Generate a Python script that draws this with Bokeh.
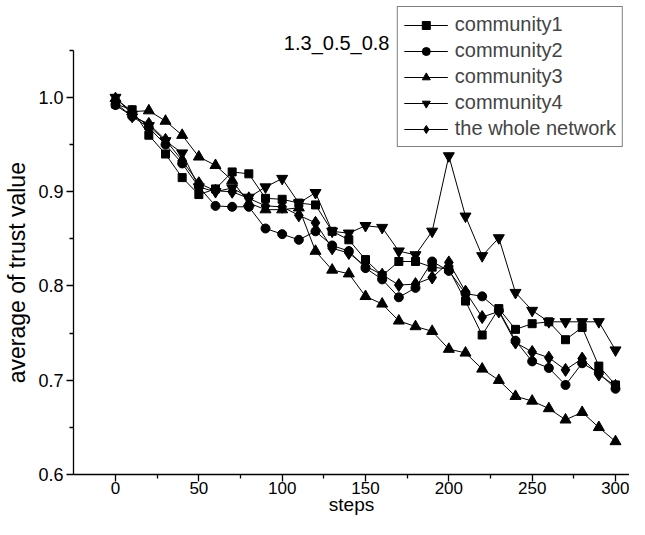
from bokeh.plotting import figure
from bokeh.models import Range1d, FixedTicker, Legend, LegendItem, Label, PrintfTickFormatter
from bokeh.embed import file_html
from bokeh.resources import INLINE

steps = list(range(0, 301, 10))

community1 = [0.993, 0.987, 0.960, 0.940, 0.915, 0.897, 0.903, 0.921, 0.919, 0.893,
              0.892, 0.888, 0.886, 0.858, 0.849, 0.828, 0.811, 0.826, 0.826, 0.820,
              0.818, 0.784, 0.748, 0.776, 0.754, 0.760, 0.762, 0.743, 0.756, 0.715, 0.695]
community2 = [0.992, 0.980, 0.968, 0.950, 0.930, 0.905, 0.885, 0.884, 0.884, 0.861,
              0.855, 0.849, 0.858, 0.843, 0.837, 0.819, 0.807, 0.788, 0.798, 0.826,
              0.816, 0.792, 0.789, 0.774, 0.742, 0.720, 0.713, 0.695, 0.718, 0.708, 0.691]
community3 = [0.999, 0.985, 0.986, 0.975, 0.960, 0.937, 0.928, 0.912, 0.888, 0.881,
              0.881, 0.883, 0.837, 0.817, 0.813, 0.789, 0.781, 0.763, 0.757, 0.752,
              0.733, 0.729, 0.712, 0.700, 0.683, 0.678, 0.670, 0.658, 0.666, 0.650, 0.635]
community4 = [1.000, 0.982, 0.970, 0.954, 0.941, 0.905, 0.900, 0.904, 0.894, 0.905,
              0.914, 0.888, 0.899, 0.858, 0.856, 0.864, 0.862, 0.837, 0.833, 0.858,
              0.938, 0.874, 0.832, 0.851, 0.793, 0.774, 0.762, 0.762, 0.762, 0.762, 0.732]
whole = [0.994, 0.980, 0.972, 0.955, 0.933, 0.909, 0.901, 0.900, 0.893, 0.885,
         0.884, 0.875, 0.867, 0.840, 0.835, 0.821, 0.812, 0.801, 0.802, 0.809,
         0.825, 0.794, 0.767, 0.773, 0.740, 0.730, 0.724, 0.711, 0.723, 0.706, 0.694]

names = ["community1", "community2", "community3", "community4", "the whole network"]
series = [community1, community2, community3, community4, whole]
markers = ["square", "circle", "triangle", "inverted_triangle", "diamond"]
sizes = [8, 9, 11, 11, 13]

x_major = [0, 50, 100, 150, 200, 250, 300]
x_minor = [25, 75, 125, 175, 225, 275]
y_major = [0.6, 0.7, 0.8, 0.9, 1.0]
y_minor = [0.65, 0.75, 0.85, 0.95, 1.05]

FONT = "Liberation Sans"

p = figure(width=629, height=519, output_backend="svg", toolbar_location=None,
           x_range=Range1d(-25.2, 308.4), y_range=Range1d(0.6, 1.1029),
           min_border_left=73, min_border_right=0, min_border_top=0, min_border_bottom=45)
p.outline_line_color = None
p.xgrid.visible = False
p.ygrid.visible = False
p.background_fill_color = "white"
p.border_fill_color = "white"

p.xaxis.ticker = FixedTicker(ticks=x_major, minor_ticks=x_minor)
p.yaxis.ticker = FixedTicker(ticks=y_major, minor_ticks=y_minor)
p.yaxis.formatter = PrintfTickFormatter(format="%.1f")
p.yaxis.bounds = (0.6, 1.05)

for ax in (p.xaxis[0], p.yaxis[0]):
    ax.axis_line_color = "black"
    ax.axis_line_width = 1.3
    ax.major_tick_in = 0
    ax.major_tick_out = 7
    ax.minor_tick_in = 0
    ax.minor_tick_out = 4
    ax.major_tick_line_color = "black"
    ax.minor_tick_line_color = "black"
    ax.major_tick_line_width = 1.3
    ax.minor_tick_line_width = 1.3
    ax.major_label_text_font = FONT
    ax.major_label_text_color = "black"
    ax.axis_label_text_font = FONT
    ax.axis_label_text_font_style = "normal"
    ax.axis_label_text_color = "black"

p.xaxis.axis_label = "steps"
# trailing no-break spaces shift the centred label toward the axis middle (0.6-1.05)
p.yaxis.axis_label = "average of trust value" + "\u00a0" * 11
p.xaxis.major_label_text_font_size = "17px"
p.yaxis.major_label_text_font_size = "18px"
p.xaxis.axis_label_text_font_size = "19px"
p.yaxis.axis_label_text_font_size = "23px"
p.xaxis.major_label_standoff = 0
p.yaxis.major_label_standoff = 3
p.xaxis.axis_label_standoff = -3
p.yaxis.axis_label_standoff = 5

items = []
for name, ys, m, s in zip(names, series, markers, sizes):
    ln = p.line(steps, ys, line_color="black", line_width=1)
    sc = p.scatter(steps, ys, marker=m, size=s, fill_color="black", line_color="black")
    items.append(LegendItem(label=name, renderers=[ln, sc]))

legend = Legend(items=items, location="top_right", margin=6, padding=6,
                glyph_width=44, glyph_height=20, label_height=20, spacing=3,
                label_standoff=7, label_text_font=FONT, label_text_font_size="20px",
                border_line_color="black", border_line_width=1,
                background_fill_color="white", background_fill_alpha=1.0)
p.add_layout(legend, "center")

p.add_layout(Label(x=101, y=1.058, text="1.3_0.5_0.8", text_font=FONT,
                   text_font_size="20px", text_baseline="middle", text_color="black"))

open("out.html", "w").write(file_html(p, INLINE))
